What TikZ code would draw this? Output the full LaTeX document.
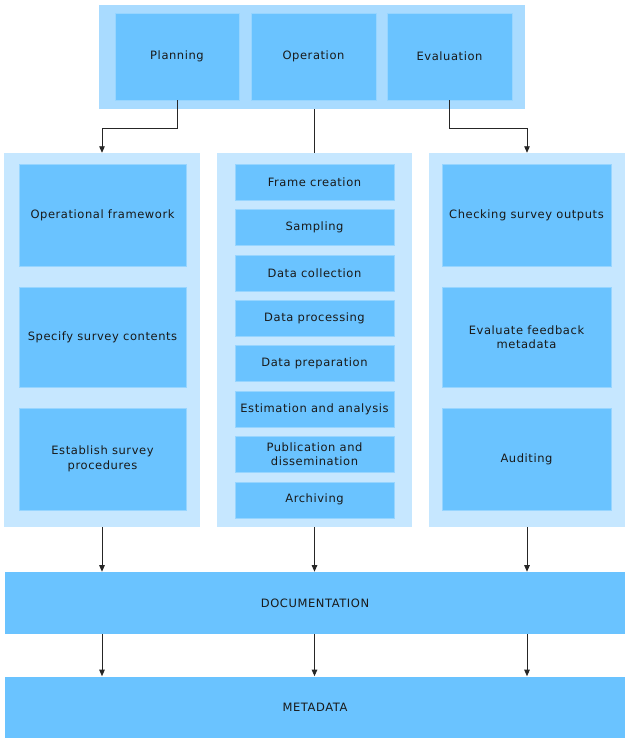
\documentclass[tikz,border=0pt]{standalone}
\usepackage{fontspec}
\setmainfont{DejaVu Sans}[LetterSpace=5]
\usetikzlibrary{arrows.meta}
\definecolor{boxblue}{HTML}{6AC3FF}
\definecolor{topblue}{HTML}{A9DBFF}
\definecolor{colblue}{HTML}{C6E7FF}
\tikzset{
    txt/.style={font=\fontsize{11.5}{14.5}\selectfont, align=center, text=black!90},
    inbox/.style={txt, fill=boxblue, draw=boxblue!70!white, line width=0.6pt, inner sep=0pt},
    outbox/.style={draw=none, inner sep=0pt},
    flow/.style={line width=0.9pt, black!85, -{Triangle[length=6.5pt,width=5.5pt]}}
}
\begin{document}
\begin{tikzpicture}[x=1pt, y=-1pt]
    \useasboundingbox[fill=white] (0,0) rectangle (625,738);
    % Top block
    \node[outbox, fill=topblue, minimum width=426, minimum height=104] (top) at (312,57) {};
    \node[inbox, minimum width=124, minimum height=87] (plan) at (177,56.5) {Planning};
    \node[inbox, minimum width=125, minimum height=87] (oper) at (313.5,56.5) {Operation};
    \node[inbox, minimum width=125, minimum height=87] (eval) at (449.5,56.5) {Evaluation};
    % Columns
    \node[outbox, fill=colblue, minimum width=196, minimum height=374] (colL) at (102,340) {};
    \node[outbox, fill=colblue, minimum width=195, minimum height=374] (colM) at (314.5,340) {};
    \node[outbox, fill=colblue, minimum width=196, minimum height=374] (colR) at (527,340) {};
    % Planning steps
    \node[inbox, minimum width=167, minimum height=102] (frame) at (102.5,215) {Operational framework};
    \node[inbox, minimum width=167, minimum height=100] (cont) at (102.5,337) {Specify survey contents};
    \node[inbox, minimum width=167, minimum height=102] (proc) at (102.5,459) {Establish survey\\procedures};
    % Operation steps
    \foreach \t [count=\i] in {Frame creation, Sampling, Data collection, Data processing,
        Data preparation, Estimation and analysis, Publication and\\dissemination, Archiving}
        \node[inbox, minimum width=159, minimum height=36] (op\i) at (314.5,{182+(\i-1)*45.4}) {\t};
    % Evaluation steps
    \node[inbox, minimum width=169, minimum height=102] (check) at (526.5,215) {Checking survey outputs};
    \node[inbox, minimum width=169, minimum height=100] (feed) at (526.5,337) {Evaluate feedback\\metadata};
    \node[inbox, minimum width=169, minimum height=102] (audit) at (526.5,459) {Auditing};
    % Bottom blocks
    \node[inbox, draw=none, minimum width=620, minimum height=62] (doc) at (315,603) {DOCUMENTATION};
    \node[inbox, draw=none, minimum width=620, minimum height=62] (meta) at (315,707.5) {METADATA};
    % Connectors
    \draw[flow] (plan.south) -- ++(0,28) -| (colL.north);
    \draw[flow] (eval.south) -- ++(0,28) -| (colR.north);
    \draw[line width=0.9pt, black!85] (colM.north |- top.south) -- (colM.north);
    \foreach \c in {colL,colM,colR} {
        \draw[flow] (\c.south) -- (\c.south |- doc.north);
        \draw[flow] (\c.south |- doc.south) -- (\c.south |- meta.north);
    }
\end{tikzpicture}
\end{document}
